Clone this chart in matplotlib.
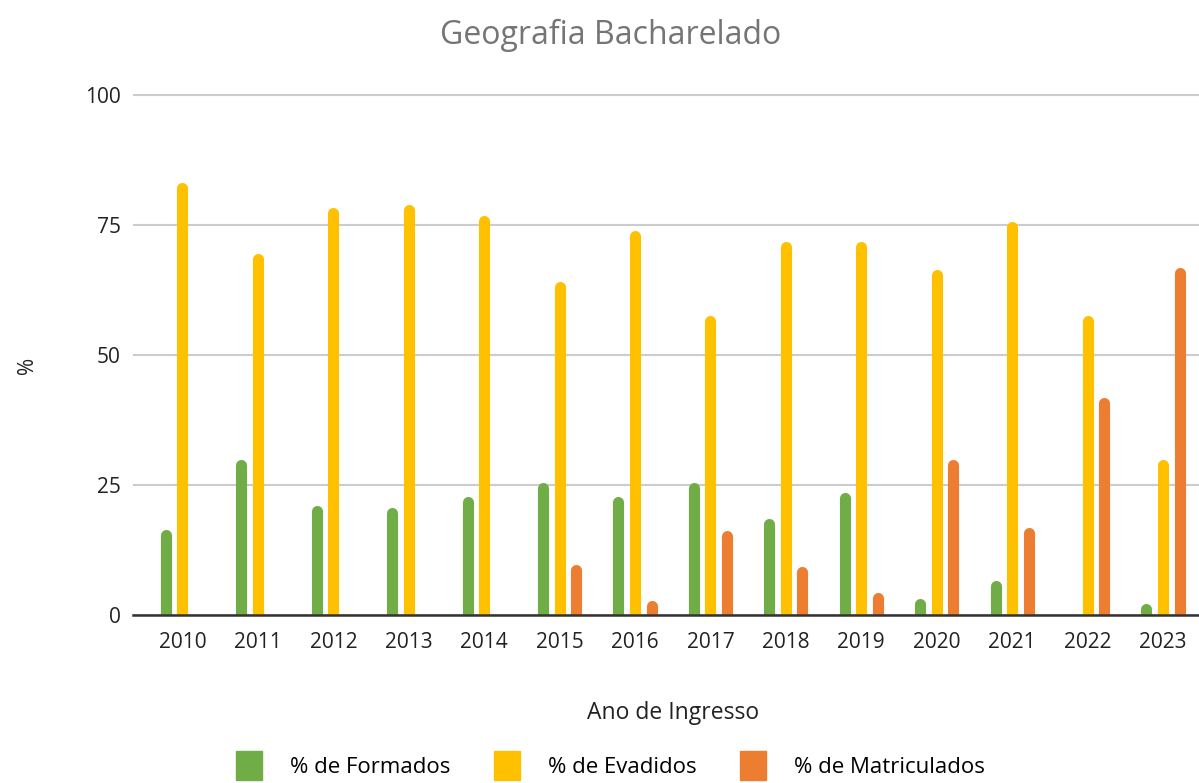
import numpy as np
import matplotlib.pyplot as plt
from matplotlib.patches import Patch

anos = ['2010', '2011', '2012', '2013', '2014', '2015', '2016',
        '2017', '2018', '2019', '2020', '2021', '2022', '2023']
formados = [16.3, 29.8, 21.0, 20.6, 22.7, 25.4, 22.7, 25.4, 18.5, 23.5, 3.1, 6.5, 0.0, 2.1]
evadidos = [83.1, 69.4, 78.3, 78.8, 76.7, 64.0, 73.8, 57.5, 71.7, 71.7, 66.3, 75.6, 57.5, 29.8]
matriculados = [0.0, 0.0, 0.0, 0.0, 0.0, 9.6, 2.7, 16.2, 9.2, 4.2, 29.8, 16.7, 41.7, 66.7]

cores = ['#70ad47', '#ffc000', '#ed7d31']
nomes = ['% de Formados', '% de Evadidos', '% de Matriculados']

plt.rcParams['font.family'] = ['Open Sans', 'DejaVu Sans']

W, H = 1199, 783
fig = plt.figure(figsize=(W / 100, H / 100), dpi=100)
# plot area: x from 133 px to the right edge, y=0 at 615 px, 5.2 px per unit
ax = fig.add_axes([133 / W, 1 - 615 / H, 1 - 133 / W, 546 / H])
ax.set_xlim(-0.656, 13.478)
ax.set_ylim(0, 105)

x = np.arange(len(anos))
offset = 0.22
lw = 8.0  # points, ~11 px
raio = 5.0 / 5.2  # cap radius in data units

for i, (serie, cor) in enumerate(zip([formados, evadidos, matriculados], cores)):
    v = np.array(serie)
    m = v > 0
    xs = x[m] + (i - 1) * offset
    lines = ax.vlines(xs, -5, v[m] - raio, colors=cor, linewidth=lw, zorder=3)
    lines.set_capstyle('round')

ax.set_yticks([0, 25, 50, 75, 100])
ax.set_xticks(x)
ax.set_xticklabels(anos)
ax.grid(axis='y', color='#cccccc', linewidth=1.5, zorder=0)
ax.set_axisbelow(True)
for s in ['top', 'right', 'left']:
    ax.spines[s].set_visible(False)
ax.spines['bottom'].set_color('#333333')
ax.spines['bottom'].set_linewidth(1.8)
ax.spines['bottom'].set_zorder(4)
ax.tick_params(axis='both', length=0, labelsize=15, colors='#222222')
ax.tick_params(axis='y', pad=9)
ax.tick_params(axis='x', pad=12)

ax.set_xlabel('Ano de Ingresso', fontsize=16.5, color='#222222')
ax.xaxis.set_label_coords((673 - 133) / 1066, -0.158)
fig.text(28 / W, 1 - 365 / H, '%', rotation=90, ha='center', va='center',
         fontsize=15, color='#222222')
fig.text(611 / W, 1 - 35 / H, 'Geografia Bacharelado', ha='center', va='center',
         fontsize=23, color='#757575')

handles = [Patch(facecolor=c, edgecolor=c, label=n) for c, n in zip(cores, nomes)]
fig.legend(handles=handles, loc='upper left', bbox_to_anchor=(236 / W, 1 - 751 / H),
           ncol=3, frameon=False, fontsize=16, handlelength=1.18, handleheight=1.6,
           columnspacing=1.95, handletextpad=1.25, borderpad=0, borderaxespad=0)

fig.savefig('out.png', dpi=100)
